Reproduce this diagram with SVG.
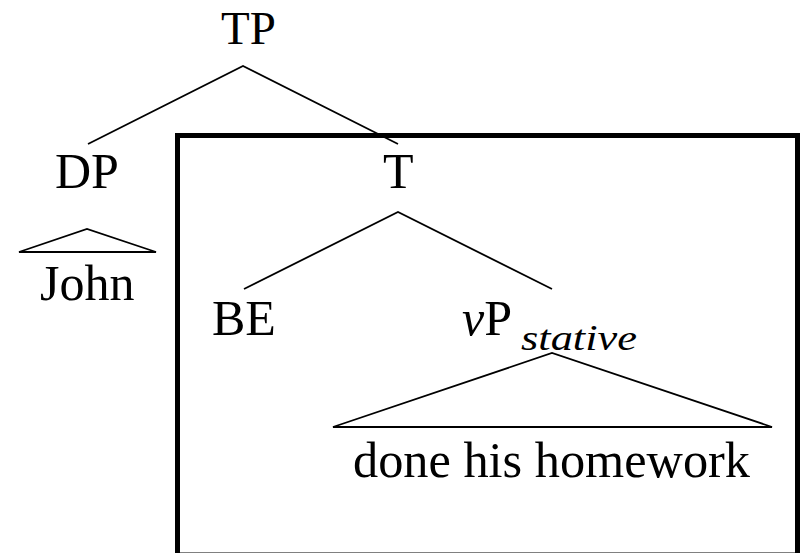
<svg xmlns="http://www.w3.org/2000/svg" width="801" height="553" viewBox="0 0 801 553">
  <style>
    .edge { stroke: #000; stroke-width: 1.8; fill: none; }
    .frame { stroke: #000; stroke-width: 5; fill: none; }
  </style>
  <rect fill="#fff" x="0" y="0" width="801" height="553"/>

  <!-- highlighted subtree frame -->
  <rect class="frame" x="177.5" y="135.5" width="620" height="419.5"/>

  <!-- branches and roofs -->
  <g id="connectors">
    <polyline class="edge" points="88,144 243,66 398,144"/>
    <polyline class="edge" points="244,289 398,212 552,289"/>
    <polygon class="edge" points="19,252 87,229 156,252"/>
    <polygon class="edge" points="333,427 552,353 772,427"/>
  </g>

  <g id="TP"><text x="221" y="44" font-size="47" font-family="Liberation Serif">TP</text></g>
  <g id="DP"><text x="55" y="188" font-size="50" font-family="Liberation Serif">DP</text></g>
  <g id="T"><text x="383" y="188" font-size="50" font-family="Liberation Serif">T</text></g>
  <g id="John"><text x="40" y="300" font-size="50" font-family="Liberation Serif">John</text></g>
  <g id="BE"><text x="212" y="335" font-size="50" font-family="Liberation Serif">BE</text></g>
  <g id="vP">
    <text x="462" y="335" font-size="50" font-family="Liberation Serif"><tspan font-style="italic">v</tspan>P</text>
    <text x="521" y="350" font-size="36" font-style="italic" font-family="Liberation Serif" textLength="116" lengthAdjust="spacingAndGlyphs">stative</text>
  </g>
  <g id="homework"><text x="353" y="477" font-size="50" font-family="Liberation Serif" textLength="397" lengthAdjust="spacingAndGlyphs">done his homework</text></g>
</svg>
